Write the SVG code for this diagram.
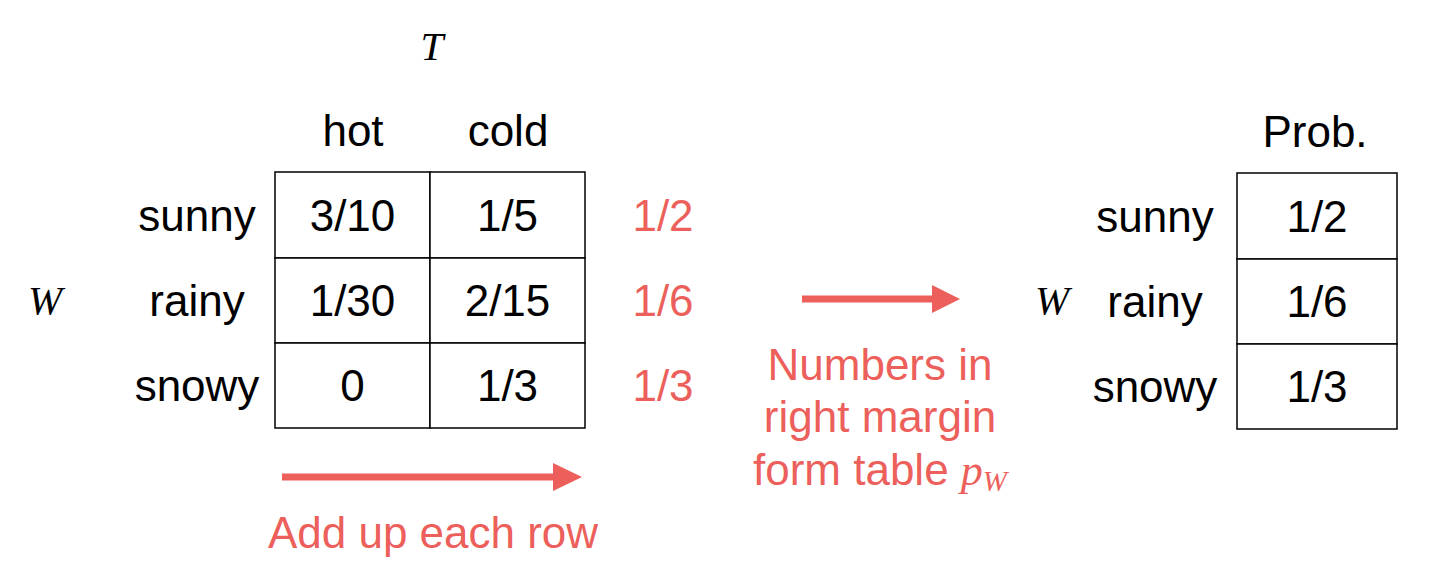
<svg xmlns="http://www.w3.org/2000/svg" width="1430" height="578" viewBox="0 0 1430 578">
<style>
.t{font-family:"Liberation Sans",Arial,sans-serif;font-size:44px;fill:#000;text-anchor:middle}
.r{fill:#EC5F5B}
.m{font-family:"Liberation Serif","Times New Roman",serif;font-style:italic;font-size:41px;fill:#000;text-anchor:middle}
.cell{fill:#fff;stroke:#000;stroke-width:1.5}
.arr{stroke:#EC5F5B;stroke-width:7;fill:none}
.head{fill:#EC5F5B}
</style>
<rect width="1430" height="578" fill="#fff"/>
<g id="left-axis-labels">
<text class="m" x="432" y="60">T</text>
<text class="m" x="45" y="314">W</text>
<text class="t" x="353" y="146">hot</text>
<text class="t" x="508" y="146">cold</text>
<text class="t" x="197" y="231">sunny</text>
<text class="t" x="197" y="316">rainy</text>
<text class="t" x="197" y="401">snowy</text>
</g>
<g id="joint-table">
<rect class="cell" x="275" y="172" width="155" height="86"/>
<rect class="cell" x="430" y="172" width="155" height="86"/>
<rect class="cell" x="275" y="258" width="155" height="85"/>
<rect class="cell" x="430" y="258" width="155" height="85"/>
<rect class="cell" x="275" y="343" width="155" height="85"/>
<rect class="cell" x="430" y="343" width="155" height="85"/>
<text class="t" x="352.5" y="231">3/10</text>
<text class="t" x="507.5" y="231">1/5</text>
<text class="t" x="352.5" y="316">1/30</text>
<text class="t" x="507.5" y="316">2/15</text>
<text class="t" x="352.5" y="401">0</text>
<text class="t" x="507.5" y="401">1/3</text>
</g>
<g id="margins">
<text class="t r" x="663" y="231">1/2</text>
<text class="t r" x="663" y="316">1/6</text>
<text class="t r" x="663" y="401">1/3</text>
</g>
<g id="marginal-table">
<text class="t" x="1315" y="147">Prob.</text>
<text class="m" x="1052" y="314">W</text>
<text class="t" x="1155" y="232">sunny</text>
<text class="t" x="1155" y="317">rainy</text>
<text class="t" x="1155" y="402">snowy</text>
<rect class="cell" x="1237" y="173" width="160" height="86"/>
<rect class="cell" x="1237" y="259" width="160" height="85"/>
<rect class="cell" x="1237" y="344" width="160" height="85"/>
<text class="t" x="1317" y="232">1/2</text>
<text class="t" x="1317" y="317">1/6</text>
<text class="t" x="1317" y="402">1/3</text>
</g>
<g id="connectors">
<line class="arr" x1="282" y1="477" x2="556" y2="477"/>
<polygon class="head" points="553,463 582,477 553,491"/>
<line class="arr" x1="802" y1="299" x2="934" y2="299"/>
<polygon class="head" points="932,285 960,299 932,313"/>
</g>
<g id="captions">
<text class="t r" x="433" y="548">Add up each row</text>
<text class="t r" x="880" y="380">Numbers in</text>
<text class="t r" x="880" y="432">right margin</text>
<text class="t r" x="880" y="485">form table <tspan font-family="Liberation Serif, Times New Roman, serif" font-style="italic">p</tspan><tspan font-family="Liberation Serif, Times New Roman, serif" font-style="italic" font-size="29px" dy="6">W</tspan></text>
</g>
</svg>
